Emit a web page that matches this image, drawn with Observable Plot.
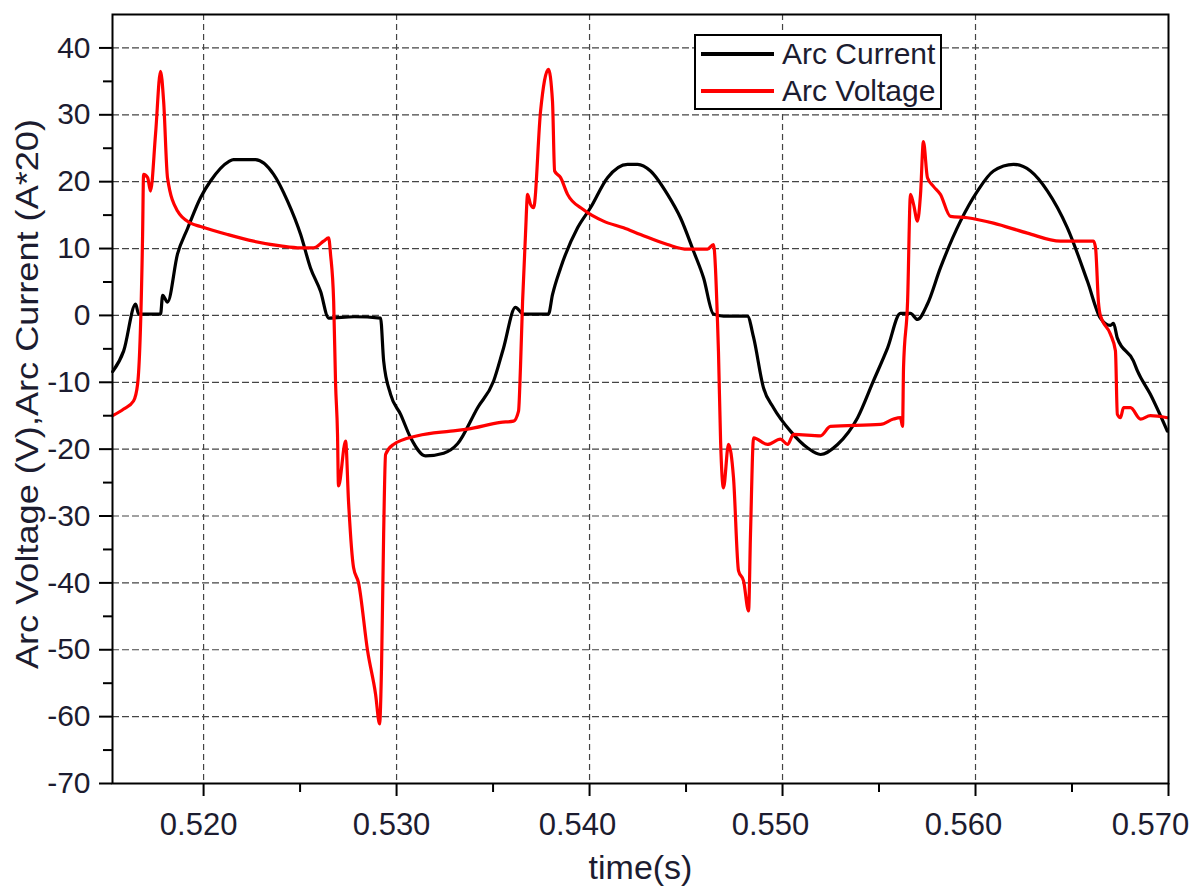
<!DOCTYPE html>
<html>
<head>
<meta charset="utf-8">
<script src="https://cdn.jsdelivr.net/npm/d3@7"></script>
<script src="https://cdn.jsdelivr.net/npm/@observablehq/plot@0.6"></script>
<style>
  html, body { margin: 0; padding: 0; background: #fff; overflow: hidden; }
  #wrap { position: relative; width: 1199px; height: 892px; font-family: "Liberation Sans", Arial, sans-serif; }
  #legend { position: absolute; left: 694px; top: 34px; width: 244px; height: 72px; border: 2px solid #000; background: #fff; }
  .row { position: absolute; left: 0; height: 34px; display: flex; align-items: center; }
  .sw { width: 73px; height: 4px; margin-left: 5px; margin-right: 8px; }
  .lt { font-size: 30px; color: #1c1c30; line-height: 34px; }
</style>
</head>
<body>
<div id="wrap">
  <div id="chart"></div>
  <div id="legend">
    <div class="row" style="top:1px"><div class="sw" style="background:#000"></div><span class="lt">Arc Current</span></div>
    <div class="row" style="top:38px"><div class="sw" style="background:#ff0000"></div><span class="lt">Arc Voltage</span></div>
  </div>
</div>
<script>
// ---- Data ----
const currentTime = [0.51529,0.51586,0.51648,0.51663,0.51777,0.51788,0.51813,0.51865,0.51917,0.51984,0.52036,0.52130,0.52155,0.52269,0.52363,0.52435,0.52503,0.52554,0.52606,0.52648,0.52780,0.52917,0.52933,0.52969,0.53021,0.53073,0.53150,0.53244,0.53316,0.53420,0.53503,0.53554,0.53616,0.53658,0.53787,0.53808,0.53850,0.53938,0.54005,0.54093,0.54197,0.54249,0.54316,0.54404,0.54471,0.54539,0.54591,0.54642,0.54694,0.54818,0.54850,0.54901,0.54953,0.55041,0.55129,0.55197,0.55285,0.55389,0.55471,0.55544,0.55611,0.55663,0.55699,0.55751,0.55818,0.55922,0.56010,0.56093,0.56197,0.56285,0.56373,0.56476,0.56580,0.56647,0.56699,0.56715,0.56735,0.56818,0.56839,0.56906,0.56994];
const currentValue = [-8.4,-5.3,1.7,0.2,0.2,3.0,2.0,9.2,13.0,17.6,20.1,23.0,23.3,23.3,21.1,17.1,12.1,7.1,3.6,-0.4,-0.2,-0.4,-6.8,-11.8,-14.8,-18.3,-21.0,-20.6,-19.2,-13.8,-9.8,-4.9,1.2,0.2,0.2,3.1,7.1,13.1,16.1,20.6,22.6,22.6,21.6,18.1,14.6,9.6,5.6,0.2,-0.1,-0.1,-3.3,-10.8,-13.8,-17.3,-19.8,-20.8,-19.3,-15.3,-9.8,-4.9,0.3,0.3,-0.6,1.7,7.1,14.1,18.6,21.6,22.6,21.6,18.6,13.1,5.1,-0.4,-1.5,-1.2,-3.4,-6.8,-8.3,-11.8,-17.3];

const voltageTime = [0.51529,0.51586,0.51637,0.51658,0.51684,0.51689,0.51710,0.51725,0.51751,0.51777,0.51793,0.51813,0.51865,0.51933,0.51984,0.52124,0.52259,0.52399,0.52503,0.52570,0.52622,0.52648,0.52658,0.52674,0.52684,0.52694,0.52699,0.52736,0.52751,0.52777,0.52803,0.52850,0.52891,0.52912,0.52922,0.52933,0.52943,0.52984,0.53109,0.53280,0.53368,0.53539,0.53606,0.53632,0.53642,0.53653,0.53668,0.53679,0.53694,0.53710,0.53746,0.53787,0.53808,0.53819,0.53850,0.53886,0.53969,0.54072,0.54176,0.54264,0.54404,0.54508,0.54611,0.54642,0.54663,0.54668,0.54679,0.54694,0.54720,0.54746,0.54772,0.54798,0.54824,0.54834,0.54850,0.54922,0.54989,0.55026,0.55057,0.55197,0.55248,0.55508,0.55575,0.55611,0.55622,0.55627,0.55648,0.55663,0.55679,0.55699,0.55715,0.55730,0.55751,0.55782,0.55818,0.55870,0.55958,0.56093,0.56269,0.56440,0.56611,0.56622,0.56637,0.56647,0.56699,0.56725,0.56735,0.56751,0.56767,0.56803,0.56855,0.56906,0.56994];
const voltageValue = [-15.0,-14.0,-12.8,-10.3,12.1,21.1,20.6,18.6,27.1,36.5,32.0,20.6,15.6,13.8,13.3,12.1,11.1,10.4,10.1,10.1,11.1,11.6,9.1,2.1,-10.3,-17.8,-25.5,-18.8,-27.8,-37.7,-40.0,-50.2,-56.6,-61.1,-52.7,-32.7,-20.8,-19.3,-18.0,-17.3,-17.0,-16.0,-15.8,-14.3,-7.8,2.1,12.1,18.1,16.6,16.1,30.5,36.8,32.0,21.6,20.6,18.1,15.8,14.1,13.1,12.1,10.6,9.9,9.9,10.6,-0.9,-5.4,-18.8,-25.8,-19.3,-24.3,-38.2,-39.7,-44.2,-32.7,-18.3,-19.3,-18.5,-19.3,-17.8,-18.0,-16.6,-16.3,-15.5,-15.3,-16.6,-7.8,2.1,18.1,16.6,14.1,18.1,26.0,20.6,19.3,18.1,14.8,14.6,13.8,12.3,11.1,11.1,10.1,2.0,0.0,-2.8,-5.3,-14.8,-15.3,-13.8,-13.8,-15.5,-15.0,-15.3];

const xMajor = [0.520, 0.530, 0.540, 0.550, 0.560, 0.570];
const xMinor = [0.525, 0.535, 0.545, 0.555, 0.565];
const yMajor = [40, 30, 20, 10, 0, -10, -20, -30, -40, -50, -60, -70];
const yMinor = [35, 25, 15, 5, -5, -15, -25, -35, -45, -55, -65];
const xTitle = "time(s)";
const yTitle = "Arc Voltage (V),Arc Current (A*20)";

const currentData = currentTime.map((t, i) => ({t, v: currentValue[i]}));
const voltageData = voltageTime.map((t, i) => ({t, v: voltageValue[i]}));

const ink = "#1c1c30";
const fmt = d3.format(".3f");
const xLabelAxis = (ticks, dx) => Plot.axisX(ticks, {tickSize: 0, tickPadding: 29, label: null, fontSize: 31, tickFormat: fmt, dx, stroke: "none", fill: ink});

const chart = Plot.plot({
  width: 1199,
  height: 892,
  marginLeft: 112,
  marginRight: 31,
  marginTop: 14,
  marginBottom: 109,
  x: {domain: [0.51528, 0.570]},
  y: {domain: [-70, 45]},
  style: {fontFamily: "Liberation Sans, Arial, sans-serif", fontSize: "30px", color: ink, background: "#fff", overflow: "visible"},
  marks: [
    Plot.gridX(xMajor.filter(d => d < 0.570), {stroke: "#444", strokeOpacity: 1, strokeWidth: 1.2, strokeDasharray: "6,4"}),
    Plot.gridY(yMajor.filter(d => d > -70), {stroke: "#444", strokeOpacity: 1, strokeWidth: 1.2, strokeDasharray: "7,3"}),
    Plot.line(currentData, {x: "t", y: "v", stroke: "#000", strokeWidth: 3.2, curve: "monotone-x"}),
    Plot.line(voltageData, {x: "t", y: "v", stroke: "#ff0000", strokeWidth: 3.2, curve: "monotone-x"}),
    Plot.frame({stroke: "#000", strokeWidth: 2}),
    Plot.axisY(yMajor, {tickSize: 13, tickPadding: 9, strokeWidth: 2, stroke: "#000", label: null, fontSize: 30, tickFormat: d => String(d)}),
    Plot.axisY(yMinor, {tickSize: 9, strokeWidth: 2, stroke: "#000", tickFormat: () => "", label: null}),
    Plot.axisX(xMajor, {tickSize: 13, strokeWidth: 2, stroke: "#000", label: null, tickFormat: () => ""}),
    Plot.axisX(xMinor, {tickSize: 9, strokeWidth: 2, stroke: "#000", tickFormat: () => "", label: null}),
    xLabelAxis([0.520, 0.530], -5),
    xLabelAxis([0.540, 0.550, 0.560], -12),
    xLabelAxis([0.570], -18),
    Plot.text([xTitle], {frameAnchor: "bottom", dy: 95, text: d => d, fontSize: 34, fill: ink}),
    Plot.text([yTitle], {frameAnchor: "left", textAnchor: "middle", dx: -84, dy: -5, rotate: -90, text: d => d, fontSize: 31, fill: ink})
  ]
});
d3.select(chart).selectAll("text")
  .filter(function() { return this.textContent === yTitle; })
  .attr("textLength", 550)
  .attr("lengthAdjust", "spacingAndGlyphs");
document.getElementById("chart").appendChild(chart);
</script>
</body>
</html>
